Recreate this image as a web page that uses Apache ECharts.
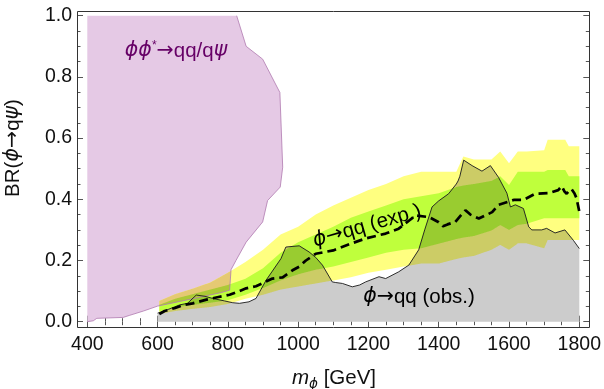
<!DOCTYPE html>
<html><head><meta charset="utf-8">
<script src="https://cdn.jsdelivr.net/npm/echarts@6/dist/echarts.min.js"></script>
<style>html,body{margin:0;padding:0;background:#fff}#c{width:604px;height:389px}</style>
</head><body><div id="c"></div>
<script>
// ---------- data ----------
const xRange = [400, 1800];
const yRange = [0, 1];
const frameX = [371, 1829];
const frameY = [-0.0173, 1.0153];

// expected-limit bands
const bandMass = [605,650,700,750,800,850,900,950,1000,1050,1100,1150,1200,1250,1300,1350,1400,1450,1470,1500,1550,1575,1600,1625,1650,1700,1710,1750,1760,1770,1800];
const yellowUp = [0.068,0.09,0.108,0.128,0.16,0.195,0.235,0.285,0.31,0.35,0.38,0.405,0.43,0.45,0.475,0.49,0.49,0.49,0.54,0.53,0.53,0.556,0.518,0.556,0.556,0.56,0.595,0.595,0.595,0.573,0.573];
const greenUp  = [0.055,0.075,0.09,0.105,0.12,0.14,0.175,0.225,0.26,0.285,0.31,0.34,0.36,0.38,0.40,0.41,0.42,0.44,0.445,0.45,0.46,0.475,0.447,0.49,0.49,0.49,0.496,0.496,0.496,0.475,0.475];
const greenDn  = [0.033,0.047,0.055,0.062,0.07,0.088,0.11,0.135,0.155,0.17,0.18,0.195,0.21,0.225,0.235,0.24,0.255,0.27,0.275,0.28,0.298,0.316,0.30,0.316,0.32,0.338,0.338,0.338,0.338,0.338,0.338];
const yellowDn = [0.025,0.035,0.042,0.048,0.058,0.075,0.088,0.105,0.115,0.125,0.135,0.145,0.16,0.17,0.18,0.19,0.19,0.205,0.21,0.215,0.235,0.251,0.235,0.256,0.256,0.24,0.267,0.267,0.267,0.267,0.267];

// expected limit (dashed)
const expMass = [605,620,650,672,700,739,770,805,833,852,880,927,956,984,1003,1022,1050,1100,1150,1192,1249,1286,1315,1334,1372,1400,1412,1425,1447,1465,1476,1490,1514,1552,1570,1613,1641,1674,1712,1740,1750,1758,1764,1772,1778,1786,1792,1800];
const expBR   = [0.025,0.035,0.045,0.054,0.06,0.072,0.08,0.088,0.1,0.109,0.116,0.141,0.145,0.168,0.18,0.2,0.222,0.233,0.255,0.272,0.288,0.304,0.33,0.347,0.342,0.325,0.312,0.318,0.326,0.35,0.364,0.35,0.337,0.358,0.382,0.398,0.398,0.418,0.42,0.43,0.443,0.425,0.418,0.43,0.433,0.42,0.404,0.36];

// observed limit
const obsMass = [600,630,663,685,710,735,757,790,814,833,860,880,909,951,965,1003,1031,1050,1069,1097,1107,1126,1154,1175,1192,1230,1249,1286,1315,1343,1360,1381,1400,1428,1450,1455,1460,1471,1495,1523,1547,1570,1594,1604,1618,1641,1656,1665,1693,1707,1731,1759,1783,1800];
const obsBR   = [0.028,0.04,0.055,0.06,0.087,0.083,0.076,0.068,0.062,0.06,0.065,0.076,0.136,0.206,0.244,0.248,0.228,0.21,0.185,0.13,0.128,0.125,0.114,0.12,0.13,0.147,0.141,0.163,0.185,0.235,0.30,0.375,0.395,0.418,0.45,0.46,0.475,0.528,0.51,0.492,0.51,0.472,0.42,0.375,0.382,0.37,0.31,0.30,0.30,0.305,0.29,0.30,0.266,0.239];

// pair-production exclusion region boundary (first 13 points form its lower edge)
const pairMass = [400,417,427,502,521,560,600,700,780,805,809,823,852,899,913,949,956,948,899,852,825,400];
const pairBR   = [0,0.003,0.011,0.014,0.021,0.035,0.051,0.075,0.095,0.103,0.17,0.2,0.26,0.326,0.396,0.44,0.505,0.749,0.858,0.9,1.0,1.0];

// ---------- colours ----------
const C = {
  yellow: '#ffff80', green: '#bfff3c', gray: '#cccccc', purple: '#e5c9e5',
  yellowGray: '#cccc66', greenGray: '#99cc30', yellowPurple: '#e5c973', greenPurple: '#acc936',
  purpleEdge: '#b07ab0', purpleText: '#660066'
};

// ---------- helpers ----------
const FONT = "'Liberation Sans', Arial, sans-serif";
const GREEK = "'DejaVu Sans', sans-serif";
const zip = (xs, ys) => xs.map((x, i) => [x, ys[i]]);
function interp(xs, ys, m) {
  if (m < xs[0] || m > xs[xs.length - 1]) return null;
  for (let i = 0; i < xs.length - 1; i++) {
    if (m >= xs[i] && m <= xs[i + 1]) {
      const t = xs[i + 1] === xs[i] ? 0 : (m - xs[i]) / (xs[i + 1] - xs[i]);
      return ys[i] + t * (ys[i + 1] - ys[i]);
    }
  }
  return ys[ys.length - 1];
}
const bandPoly = (up, dn) => zip(bandMass, up).concat(zip(bandMass, dn).reverse());
const obsPoly = [[obsMass[0], 0]].concat(zip(obsMass, obsBR)).concat([[obsMass[obsMass.length - 1], 0]]);
const pLowM = pairMass.slice(0, 13), pLowB = pairBR.slice(0, 13);

// part of a band lying under the observed limit
function bandUnderObs(up, dn) {
  const top = [], bot = [];
  for (let m = bandMass[0]; m <= bandMass[bandMass.length - 1]; m++) {
    const o = interp(obsMass, obsBR, m), u = interp(bandMass, up, m), d = interp(bandMass, dn, m);
    top.push([m, Math.min(u, o)]); bot.push([m, Math.min(d, o)]);
  }
  return top.concat(bot.reverse());
}
// part of a band lying inside the pair-production region
function bandInPair(up, dn) {
  const top = [], bot = [];
  for (let m = bandMass[0]; m <= pLowM[pLowM.length - 1]; m++) {
    const p = interp(pLowM, pLowB, m), u = interp(bandMass, up, m), d = interp(bandMass, dn, m);
    top.push([m, u]); bot.push([m, Math.min(Math.max(d, p), u)]);
  }
  return top.concat(bot.reverse());
}

function shapeSeries(type, pts, style, z) {
  return {
    type: 'custom', coordinateSystem: 'cartesian2d', silent: true, z: z,
    data: [[1000, 0.5]], clip: false,
    renderItem: (params, api) => ({
      type: type,
      shape: { points: pts.map(p => api.coord(p)) },
      style: style
    })
  };
}

// ---------- chart ----------
const chart = echarts.init(document.getElementById('c'), null, { renderer: 'canvas' });

const TICKFS = 19.5, LABFS = 20.5;
const tickStyle = { color: '#555', width: 1 };
function xAx(pos, offset, labels) {
  return {
    type: 'value', position: pos, offset: offset, min: xRange[0], max: xRange[1], interval: 200,
    axisLine: { show: false },
    axisTick: { show: true, inside: true, length: 6, lineStyle: tickStyle },
    minorTick: { show: true, splitNumber: 4, length: 3.5, lineStyle: tickStyle },
    axisLabel: { show: labels, fontSize: TICKFS, fontFamily: FONT, color: '#111', margin: 8,
                 formatter: v => String(v) },
    splitLine: { show: false }, minorSplitLine: { show: false }
  };
}
function yAx(pos, offset, labels) {
  return {
    type: 'value', position: pos, offset: offset, min: yRange[0], max: yRange[1], interval: 0.2,
    axisLine: { show: false },
    axisTick: { show: true, inside: true, length: 6, lineStyle: tickStyle },
    minorTick: { show: true, splitNumber: 4, length: 3.5, lineStyle: tickStyle },
    axisLabel: { show: labels, fontSize: TICKFS, fontFamily: FONT, color: '#111', margin: 5,
                 formatter: v => v.toFixed(1) },
    splitLine: { show: false }, minorSplitLine: { show: false }
  };
}
function richLabel(color) {
  return {
    g: { fontSize: LABFS, fontStyle: 'italic', fontFamily: GREEK, fill: color },
    n: { fontSize: LABFS, fontFamily: FONT, fill: color },
    a: { fontSize: LABFS, fontFamily: GREEK, fill: color },
    s: { fontSize: 12, fontFamily: FONT, fill: color, padding: [0, 0, 10, 0] },
    m: { fontSize: LABFS, fontStyle: 'italic', fontFamily: FONT, fill: color },
    b: { fontSize: 13.5, fontStyle: 'italic', fontFamily: GREEK, fill: color, padding: [12, 0, 0, 0] }
  };
}

chart.setOption({
  animation: false,
  backgroundColor: '#fff',
  grid: { left: 87.3, top: 15.7, width: 493.7, height: 306 },
  xAxis: [xAx('bottom', 5.3, true), xAx('top', 4.7, false)],
  yAxis: [yAx('left', 10.3, true), yAx('right', 10, false)],
  series: [
    shapeSeries('polygon', zip(pairMass, pairBR), { fill: C.purple }, 1),
    shapeSeries('polygon', bandPoly(yellowUp, yellowDn), { fill: C.yellow }, 2),
    shapeSeries('polygon', bandPoly(greenUp, greenDn), { fill: C.green }, 3),
    shapeSeries('polygon', obsPoly, { fill: C.gray }, 4),
    shapeSeries('polygon', bandUnderObs(yellowUp, yellowDn), { fill: C.yellowGray }, 5),
    shapeSeries('polygon', bandUnderObs(greenUp, greenDn), { fill: C.greenGray }, 6),
    shapeSeries('polygon', bandInPair(yellowUp, yellowDn), { fill: C.yellowPurple }, 7),
    shapeSeries('polygon', bandInPair(greenUp, greenDn), { fill: C.greenPurple }, 8),
    shapeSeries('polyline', zip(pairMass, pairBR).slice(0, 21), { fill: null, stroke: C.purpleEdge, lineWidth: 0.8 }, 9),
    {
      type: 'line', data: zip(obsMass, obsBR), symbol: 'none', z: 10, silent: true,
      lineStyle: { color: '#1a1a1a', width: 0.9 }
    },
    {
      type: 'line', data: zip(expMass, expBR), symbol: 'none', z: 11, silent: true,
      lineStyle: { color: '#000', width: 2.7, type: [9, 5] }
    }
  ],
  graphic: [
    { type: 'text', x: 176, y: 51, z: 100, style: {
        text: '{g|ϕϕ}{s|*}{a|→}{n|qq/q}{g|ψ}', align: 'center', verticalAlign: 'middle',
        rich: richLabel(C.purpleText) } },
    { type: 'text', x: 367, y: 226, rotation: 16 * Math.PI / 180, z: 100, style: {
        text: '{g|ϕ}{a|→}{n|qq (exp.)}', align: 'center', verticalAlign: 'middle',
        rich: richLabel('#000') } },
    { type: 'text', x: 419, y: 297, z: 100, style: {
        text: '{g|ϕ}{a|→}{n|qq (obs.)}', align: 'center', verticalAlign: 'middle',
        rich: richLabel('#000') } },
    { type: 'text', x: 13, y: 148, rotation: Math.PI / 2, z: 100, style: {
        text: '{n|BR(}{g|ϕ}{a|→}{n|q}{g|ψ}{n|)}', align: 'center', verticalAlign: 'middle',
        rich: richLabel('#111') } },
    { type: 'text', x: 334, y: 378, z: 100, style: {
        text: '{m|m}{b|ϕ}{n| [GeV]}', align: 'center', verticalAlign: 'middle',
        rich: richLabel('#111') } }
  ]
});

// plot frame, positioned through the axes
const p0 = chart.convertToPixel({ xAxisIndex: 0, yAxisIndex: 0 }, [frameX[0], frameY[1]]);
const p1 = chart.convertToPixel({ xAxisIndex: 0, yAxisIndex: 0 }, [frameX[1], frameY[0]]);
chart.setOption({
  graphic: [{ id: 'frame', type: 'rect', z: 90, silent: true,
    shape: { x: Math.round(p0[0]) + 0.5, y: Math.round(p0[1]) + 0.5,
             width: Math.round(p1[0] - p0[0]), height: Math.round(p1[1] - p0[1]) },
    style: { fill: 'none', stroke: '#333', lineWidth: 1 } }]
});
</script></body></html>
